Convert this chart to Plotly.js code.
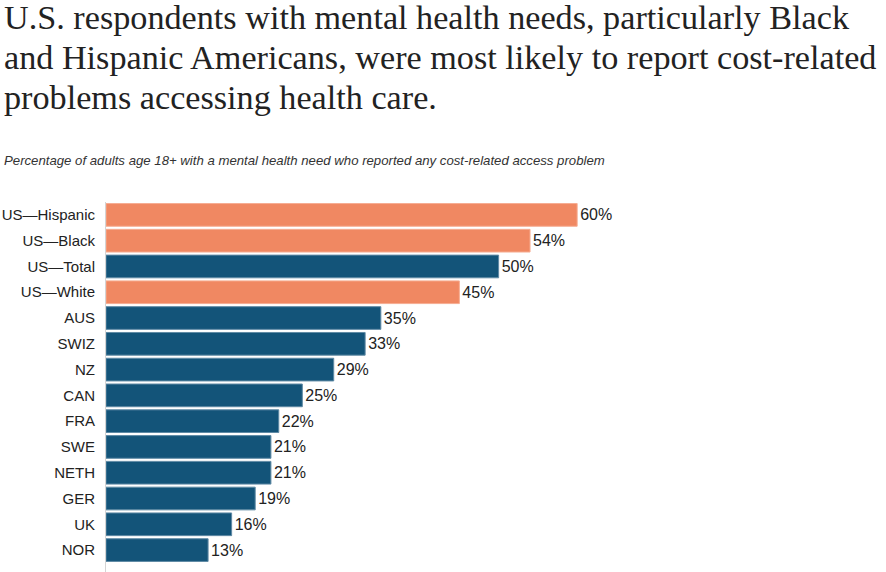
<!DOCTYPE html>
<html>
<head>
<meta charset="utf-8">
<script src="https://cdn.plot.ly/plotly-3.0.1.min.js"></script>
<style>
html,body{margin:0;padding:0;background:#fff;}
#chart{width:886px;height:572px;}
</style>
</head>
<body>
<div id="chart"></div>
<script>
const categories = ["US\u2014Hispanic","US\u2014Black","US\u2014Total","US\u2014White","AUS","SWIZ","NZ","CAN","FRA","SWE","NETH","GER","UK","NOR"];
const values = [60,54,50,45,35,33,29,25,22,21,21,19,16,13];
const highlight = [true,true,false,true,false,false,false,false,false,false,false,false,false,false];
const labels = values.map(v => v + "%");
const titleLines = [
  "U.S. respondents with mental health needs, particularly Black",
  "and Hispanic Americans, were most likely to report cost-related",
  "problems accessing health care."
];
const subtitle = "Percentage of adults age 18+ with a mental health need who reported any cost-related access problem";

const navy = "#135479";
const orange = "#f08862";
const colors = highlight.map(h => h ? orange : navy);
const lineColors = highlight.map(h => h ? "#f6ad92" : "#5f8aa5");

const trace = {
  type: "bar",
  orientation: "h",
  y: categories,
  x: values,
  text: labels,
  textposition: "outside",
  cliponaxis: false,
  textfont: {family: "Liberation Sans, Arial, sans-serif", size: 16, color: "#222"},
  marker: {color: colors, line: {color: lineColors, width: 1}},
  hoverinfo: "none"
};

const PLOT_T = 202, PLOT_H = 370, PLOT_L = 106, PLOT_W = 746;
function py(pix) { return 1 + (PLOT_T - pix) / PLOT_H; }
const xLeft = -PLOT_L / PLOT_W + 2 / PLOT_W;

const annotations = titleLines.map((t, i) => ({
  xref: "paper", yref: "paper", x: xLeft, y: py(17 + i * 40.3),
  xanchor: "left", yanchor: "middle", align: "left", showarrow: false,
  text: t,
  font: {family: "Liberation Serif, Times New Roman, serif", size: 34.2, color: "#222"}
}));
annotations.push({
  xref: "paper", yref: "paper", x: xLeft, y: py(160),
  xanchor: "left", yanchor: "middle", align: "left", showarrow: false,
  text: "<i>" + subtitle + "</i>",
  font: {family: "Liberation Sans, Arial, sans-serif", size: 13.2, color: "#333"}
});

const layout = {
  width: 886, height: 572,
  margin: {l: PLOT_L, r: 886 - PLOT_L - PLOT_W, t: PLOT_T, b: 0},
  paper_bgcolor: "#fff", plot_bgcolor: "#fff",
  bargap: 0.12,
  showlegend: false,
  xaxis: {range: [0, 95], showgrid: false, zeroline: false, showticklabels: false, showline: false, fixedrange: true},
  yaxis: {
    type: "category",
    range: [13.85, -0.5],
    showgrid: false, zeroline: false,
    showline: true, linecolor: "#d4d4d4", linewidth: 1,
    ticks: "outside", ticklen: 7, tickcolor: "rgba(0,0,0,0)",
    tickfont: {family: "Liberation Sans, Arial, sans-serif", size: 15, color: "#222"}
  },
  annotations: annotations
};

Plotly.newPlot("chart", [trace], layout, {displayModeBar: false, staticPlot: true});
</script>
</body>
</html>
